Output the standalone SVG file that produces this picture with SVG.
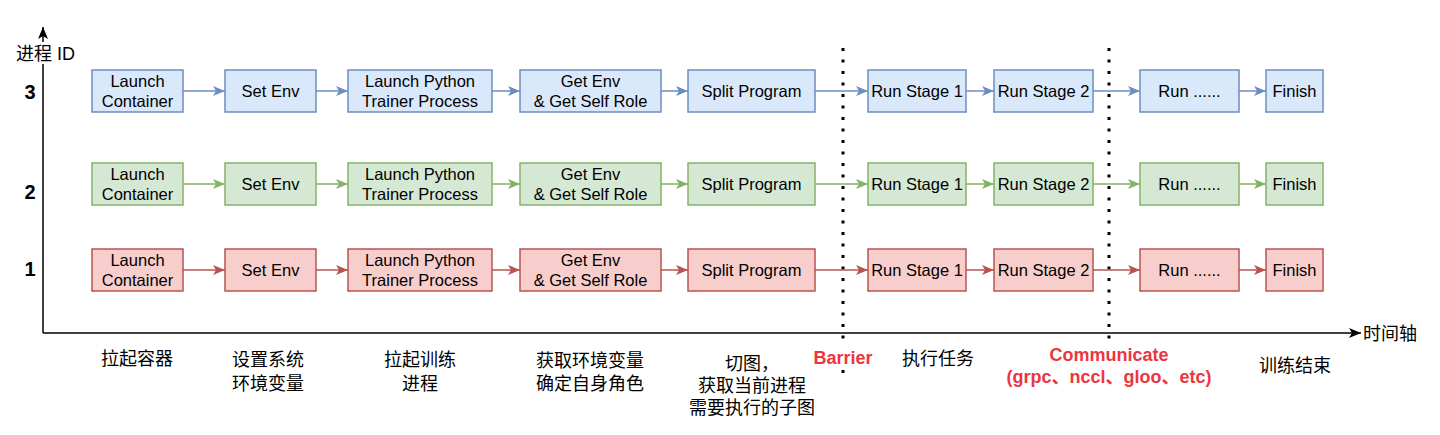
<svg xmlns="http://www.w3.org/2000/svg" width="1440" height="435" viewBox="0 0 1440 435">
<defs>
<style>
.box text, .lbl { font-family: "Liberation Sans", "Noto Sans CJK SC", sans-serif; }
.box text { font-size: 16.5px; fill: #000; text-anchor: middle; }
.blue rect { fill: #dae8fc; stroke: #6c8ebf; stroke-width: 1.5; }
.green rect { fill: #d5e8d4; stroke: #82b366; stroke-width: 1.5; }
.red rect { fill: #f8cecc; stroke: #b85450; stroke-width: 1.5; }
.cb { stroke: #6c8ebf; stroke-width: 1.5; fill: none; marker-end: url(#ab); }
.cg { stroke: #82b366; stroke-width: 1.5; fill: none; marker-end: url(#ag); }
.cr { stroke: #b85450; stroke-width: 1.5; fill: none; marker-end: url(#ar); }
.axis { stroke: #000; stroke-width: 1.5; fill: none; marker-end: url(#ak); }
.dots { stroke: #000; stroke-width: 3; stroke-dasharray: 3 8.5; fill: none; }
.lbl { font-size: 18px; fill: #000; text-anchor: middle; }
.warn { fill: #ec3540; font-weight: bold; }
.num { font-weight: bold; font-size: 20px; }
</style>
<marker id="ab" markerUnits="userSpaceOnUse" markerWidth="14" markerHeight="12" refX="12" refY="5" orient="auto"><path d="M0,0 L12,5 L0,10 L3,5 Z" fill="#6c8ebf"/></marker>
<marker id="ag" markerUnits="userSpaceOnUse" markerWidth="14" markerHeight="12" refX="12" refY="5" orient="auto"><path d="M0,0 L12,5 L0,10 L3,5 Z" fill="#82b366"/></marker>
<marker id="ar" markerUnits="userSpaceOnUse" markerWidth="14" markerHeight="12" refX="12" refY="5" orient="auto"><path d="M0,0 L12,5 L0,10 L3,5 Z" fill="#b85450"/></marker>
<marker id="ak" markerUnits="userSpaceOnUse" markerWidth="14" markerHeight="12" refX="12" refY="5" orient="auto"><path d="M0,0 L12,5 L0,10 L3,5 Z" fill="#000"/></marker>
</defs>
<rect width="1440" height="435" fill="#fff"/>

<g id="axes">
<path class="axis" d="M43,333 V27"/>
<path class="axis" d="M43,333 H1361"/>
<rect x="14" y="42" width="64" height="22" fill="#fff"/>
<text class="lbl" x="16" y="60" style="text-anchor:start">进程 ID</text>
<text class="lbl" x="1363" y="340" style="text-anchor:start">时间轴</text>
<text class="lbl num" x="30" y="99">3</text>
<text class="lbl num" x="30" y="199">2</text>
<text class="lbl num" x="30" y="276">1</text>
</g>

<g id="dividers">
<path class="dots" d="M843,48 V374"/>
<path class="dots" d="M1109,48 V340"/>
</g>

<g id="connectors">
<path class="cb" d="M183,91 H225"/><path class="cb" d="M316,91 H348"/><path class="cb" d="M492,91 H520"/><path class="cb" d="M661,91 H688"/><path class="cb" d="M815,91 H868"/><path class="cb" d="M966,91 H994"/><path class="cb" d="M1093,91 H1140"/><path class="cb" d="M1239,91 H1266"/>
<path class="cg" d="M183,184 H225"/><path class="cg" d="M316,184 H348"/><path class="cg" d="M492,184 H520"/><path class="cg" d="M661,184 H688"/><path class="cg" d="M815,184 H868"/><path class="cg" d="M966,184 H994"/><path class="cg" d="M1093,184 H1140"/><path class="cg" d="M1239,184 H1266"/>
<path class="cr" d="M183,270 H225"/><path class="cr" d="M316,270 H348"/><path class="cr" d="M492,270 H520"/><path class="cr" d="M661,270 H688"/><path class="cr" d="M815,270 H868"/><path class="cr" d="M966,270 H994"/><path class="cr" d="M1093,270 H1140"/><path class="cr" d="M1239,270 H1266"/>
</g>

<!-- Row 3 (blue) -->
<g id="p3-launch" class="box blue"><rect x="92" y="70" width="91" height="42"/><text x="137.5" y="87">Launch</text><text x="137.5" y="107">Container</text></g>
<g id="p3-setenv" class="box blue"><rect x="225" y="70" width="91" height="42"/><text x="270.5" y="97">Set Env</text></g>
<g id="p3-python" class="box blue"><rect x="348" y="70" width="144" height="42"/><text x="420" y="87">Launch Python</text><text x="420" y="107">Trainer Process</text></g>
<g id="p3-getenv" class="box blue"><rect x="520" y="70" width="141" height="42"/><text x="590.5" y="87">Get Env</text><text x="590.5" y="107">&amp; Get Self Role</text></g>
<g id="p3-split" class="box blue"><rect x="688" y="70" width="127" height="42"/><text x="751.5" y="97">Split Program</text></g>
<g id="p3-stage1" class="box blue"><rect x="868" y="70" width="98" height="42"/><text x="917" y="97">Run Stage 1</text></g>
<g id="p3-stage2" class="box blue"><rect x="994" y="70" width="99" height="42"/><text x="1043.5" y="97">Run Stage 2</text></g>
<g id="p3-run" class="box blue"><rect x="1140" y="70" width="99" height="42"/><text x="1189.5" y="97">Run ......</text></g>
<g id="p3-finish" class="box blue"><rect x="1266" y="70" width="57" height="42"/><text x="1294.5" y="97">Finish</text></g>

<!-- Row 2 (green) -->
<g id="p2-launch" class="box green"><rect x="92" y="163" width="91" height="42"/><text x="137.5" y="180">Launch</text><text x="137.5" y="200">Container</text></g>
<g id="p2-setenv" class="box green"><rect x="225" y="163" width="91" height="42"/><text x="270.5" y="190">Set Env</text></g>
<g id="p2-python" class="box green"><rect x="348" y="163" width="144" height="42"/><text x="420" y="180">Launch Python</text><text x="420" y="200">Trainer Process</text></g>
<g id="p2-getenv" class="box green"><rect x="520" y="163" width="141" height="42"/><text x="590.5" y="180">Get Env</text><text x="590.5" y="200">&amp; Get Self Role</text></g>
<g id="p2-split" class="box green"><rect x="688" y="163" width="127" height="42"/><text x="751.5" y="190">Split Program</text></g>
<g id="p2-stage1" class="box green"><rect x="868" y="163" width="98" height="42"/><text x="917" y="190">Run Stage 1</text></g>
<g id="p2-stage2" class="box green"><rect x="994" y="163" width="99" height="42"/><text x="1043.5" y="190">Run Stage 2</text></g>
<g id="p2-run" class="box green"><rect x="1140" y="163" width="99" height="42"/><text x="1189.5" y="190">Run ......</text></g>
<g id="p2-finish" class="box green"><rect x="1266" y="163" width="57" height="42"/><text x="1294.5" y="190">Finish</text></g>

<!-- Row 1 (red) -->
<g id="p1-launch" class="box red"><rect x="92" y="249" width="91" height="42"/><text x="137.5" y="266">Launch</text><text x="137.5" y="286">Container</text></g>
<g id="p1-setenv" class="box red"><rect x="225" y="249" width="91" height="42"/><text x="270.5" y="276">Set Env</text></g>
<g id="p1-python" class="box red"><rect x="348" y="249" width="144" height="42"/><text x="420" y="266">Launch Python</text><text x="420" y="286">Trainer Process</text></g>
<g id="p1-getenv" class="box red"><rect x="520" y="249" width="141" height="42"/><text x="590.5" y="266">Get Env</text><text x="590.5" y="286">&amp; Get Self Role</text></g>
<g id="p1-split" class="box red"><rect x="688" y="249" width="127" height="42"/><text x="751.5" y="276">Split Program</text></g>
<g id="p1-stage1" class="box red"><rect x="868" y="249" width="98" height="42"/><text x="917" y="276">Run Stage 1</text></g>
<g id="p1-stage2" class="box red"><rect x="994" y="249" width="99" height="42"/><text x="1043.5" y="276">Run Stage 2</text></g>
<g id="p1-run" class="box red"><rect x="1140" y="249" width="99" height="42"/><text x="1189.5" y="276">Run ......</text></g>
<g id="p1-finish" class="box red"><rect x="1266" y="249" width="57" height="42"/><text x="1294.5" y="276">Finish</text></g>

<g id="labels">
<text class="lbl" x="137" y="365">拉起容器</text>
<text class="lbl" x="268" y="366">设置系统</text><text class="lbl" x="268" y="390">环境变量</text>
<text class="lbl" x="420" y="366">拉起训练</text><text class="lbl" x="420" y="390">进程</text>
<text class="lbl" x="590" y="367">获取环境变量</text><text class="lbl" x="590" y="390">确定自身角色</text>
<text class="lbl" x="752" y="370">切图，</text><text class="lbl" x="752" y="392">获取当前进程</text><text class="lbl" x="752" y="414">需要执行的子图</text>
<rect x="810" y="343" width="66" height="24" fill="#fff"/>
<text class="lbl warn" x="843" y="364">Barrier</text>
<text class="lbl" x="938" y="365">执行任务</text>
<rect x="1046" y="343" width="126" height="22" fill="#fff"/>
<text class="lbl warn" x="1109" y="361">Communicate</text>
<text class="lbl warn" x="1109" y="383">(grpc、nccl、gloo、etc)</text>
<text class="lbl" x="1295" y="372">训练结束</text>
</g>
</svg>
